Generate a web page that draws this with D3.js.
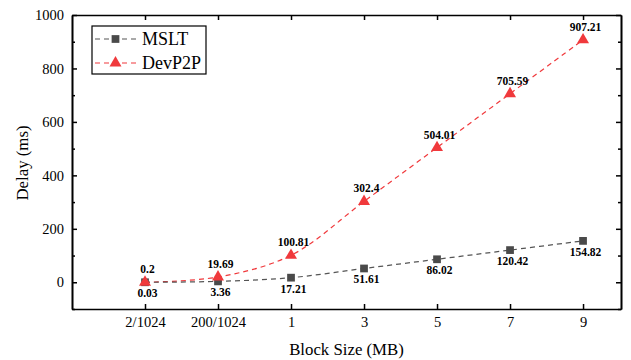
<!DOCTYPE html>
<html>
<head>
<meta charset="utf-8">
<script src="https://cdn.jsdelivr.net/npm/d3@7"></script>
</head>
<body style="margin:0">
<script>
// block sizes and measured delays
var categories = ['2/1024', '200/1024', '1', '3', '5', '7', '9'];
var msltValues = [0.03, 3.36, 17.21, 51.61, 86.02, 120.42, 154.82];
var devp2pValues = [0.2, 19.69, 100.81, 302.4, 504.01, 705.59, 907.21];
var msltLabels = ['0.03', '3.36', '17.21', '51.61', '86.02', '120.42', '154.82'];
var devp2pLabels = ['0.2', '19.69', '100.81', '302.4', '504.01', '705.59', '907.21'];
var yTicks = [0, 200, 400, 600, 800, 1000];
var yMinorTicks = [-100, 100, 300, 500, 700, 900];

var W = 631, H = 360;
var margin = {top: 15, right: 10, bottom: 51, left: 72};
var width = W - margin.left - margin.right;
var height = H - margin.top - margin.bottom;
var serif = 'Liberation Serif';

var root = d3.select('body').append('svg')
  .attr('width', W)
  .attr('height', H);

var svg = root.append('g')
  .attr('transform', 'translate(' + margin.left + ',' + margin.top + ')');

var x = d3.scaleLinear().domain([-1, 6.52]).range([0, width]);
var y = d3.scaleLinear().domain([-100, 1000]).range([height, 0]);

var idx = d3.range(categories.length);

// axes, ticks pointing inward
var xAxis = d3.axisBottom(x).tickValues(idx)
  .tickFormat(function(i) { return categories[i]; })
  .tickSizeInner(-5).tickSizeOuter(0).tickPadding(8);
var xTop = d3.axisTop(x).tickValues(idx).tickFormat('')
  .tickSizeInner(-5).tickSizeOuter(0);
var yAxis = d3.axisLeft(y).tickValues(yTicks).tickFormat(d3.format('d'))
  .tickSizeInner(-5).tickSizeOuter(0).tickPadding(8);
var yMinor = d3.axisLeft(y).tickValues(yMinorTicks).tickFormat('')
  .tickSizeInner(-3).tickSizeOuter(0);
var yRight = d3.axisRight(y).tickValues(yTicks).tickFormat('')
  .tickSizeInner(-5).tickSizeOuter(0);
var yRightMinor = d3.axisRight(y).tickValues(yMinorTicks).tickFormat('')
  .tickSizeInner(-3).tickSizeOuter(0);

svg.append('g').attr('class', 'axis')
  .attr('transform', 'translate(0,' + height + ')').call(xAxis);
svg.append('g').attr('class', 'axis').call(xTop);
svg.append('g').attr('class', 'axis').call(yAxis);
svg.append('g').attr('class', 'axis').call(yMinor);
svg.append('g').attr('class', 'axis')
  .attr('transform', 'translate(' + width + ',0)').call(yRight);
svg.append('g').attr('class', 'axis')
  .attr('transform', 'translate(' + width + ',0)').call(yRightMinor);

svg.selectAll('.axis').attr('font-family', null).attr('font-size', null);
svg.selectAll('.axis path, .axis line')
  .attr('stroke', '#000').attr('stroke-width', 1.5);
svg.selectAll('.axis path').attr('stroke-width', 1.6);
svg.selectAll('.axis text')
  .attr('fill', '#000')
  .attr('font-family', serif)
  .attr('font-size', 14.5);

// axis titles
svg.append('text')
  .attr('x', width / 2)
  .attr('y', height + 46)
  .attr('text-anchor', 'middle')
  .attr('font-family', serif)
  .attr('font-size', 16.8)
  .text('Block Size (MB)');

svg.append('text')
  .attr('transform', 'rotate(-90)')
  .attr('x', -(height / 2 + 1))
  .attr('y', -44)
  .attr('text-anchor', 'middle')
  .attr('font-family', serif)
  .attr('font-size', 16.8)
  .text('Delay (ms)');

var series = [
  {name: 'MSLT', values: msltValues, labels: msltLabels, color: '#555555',
   marker: '#4a4a4a', symbol: d3.symbolSquare, size: 60, dy: 15},
  {name: 'DevP2P', values: devp2pValues, labels: devp2pLabels, color: '#f0393c',
   marker: '#f0393c', symbol: d3.symbolTriangle, size: 62, dy: -9}
];

var line = d3.line()
  .x(function(d, i) { return x(i); })
  .y(function(d) { return y(d); })
  .curve(d3.curveCatmullRom.alpha(0.5));

series.slice().reverse().forEach(function(s) {
  svg.append('path')
    .attr('d', line(s.values))
    .attr('fill', 'none')
    .attr('stroke', s.color)
    .attr('stroke-width', 1.2)
    .attr('stroke-dasharray', '5,4');
});

series.forEach(function(s) {
  svg.selectAll('.m-' + s.name)
    .data(s.values)
    .enter().append('path')
    .attr('transform', function(d, i) {
      return 'translate(' + x(i) + ',' + y(d) + ')';
    })
    .attr('d', d3.symbol().type(s.symbol).size(s.size))
    .attr('fill', s.marker);

  svg.selectAll('.l-' + s.name)
    .data(s.values)
    .enter().append('text')
    .attr('x', function(d, i) { return x(i) + 2.5; })
    .attr('y', function(d) { return y(d) + s.dy; })
    .attr('text-anchor', 'middle')
    .attr('font-family', serif)
    .attr('font-size', 11.5)
    .attr('font-weight', 'bold')
    .text(function(d, i) { return s.labels[i]; });
});

// legend
var legend = svg.append('g').attr('transform', 'translate(20,11)');
legend.append('rect')
  .attr('width', 114).attr('height', 48)
  .attr('fill', '#fff').attr('stroke', '#000').attr('stroke-width', 1.2);

series.forEach(function(s, i) {
  var ly = 13 + i * 24;
  legend.append('line')
    .attr('x1', 3).attr('x2', 47).attr('y1', ly).attr('y2', ly)
    .attr('stroke', s.color).attr('stroke-width', 1.2)
    .attr('stroke-dasharray', '5,4');
  legend.append('path')
    .attr('transform', 'translate(23.5,' + ly + ')')
    .attr('d', d3.symbol().type(s.symbol).size(s.size))
    .attr('fill', s.marker);
  legend.append('text')
    .attr('x', 50).attr('y', ly + 6)
    .attr('font-family', serif)
    .attr('font-size', 18)
    .text(s.name);
});
</script>
</body>
</html>
